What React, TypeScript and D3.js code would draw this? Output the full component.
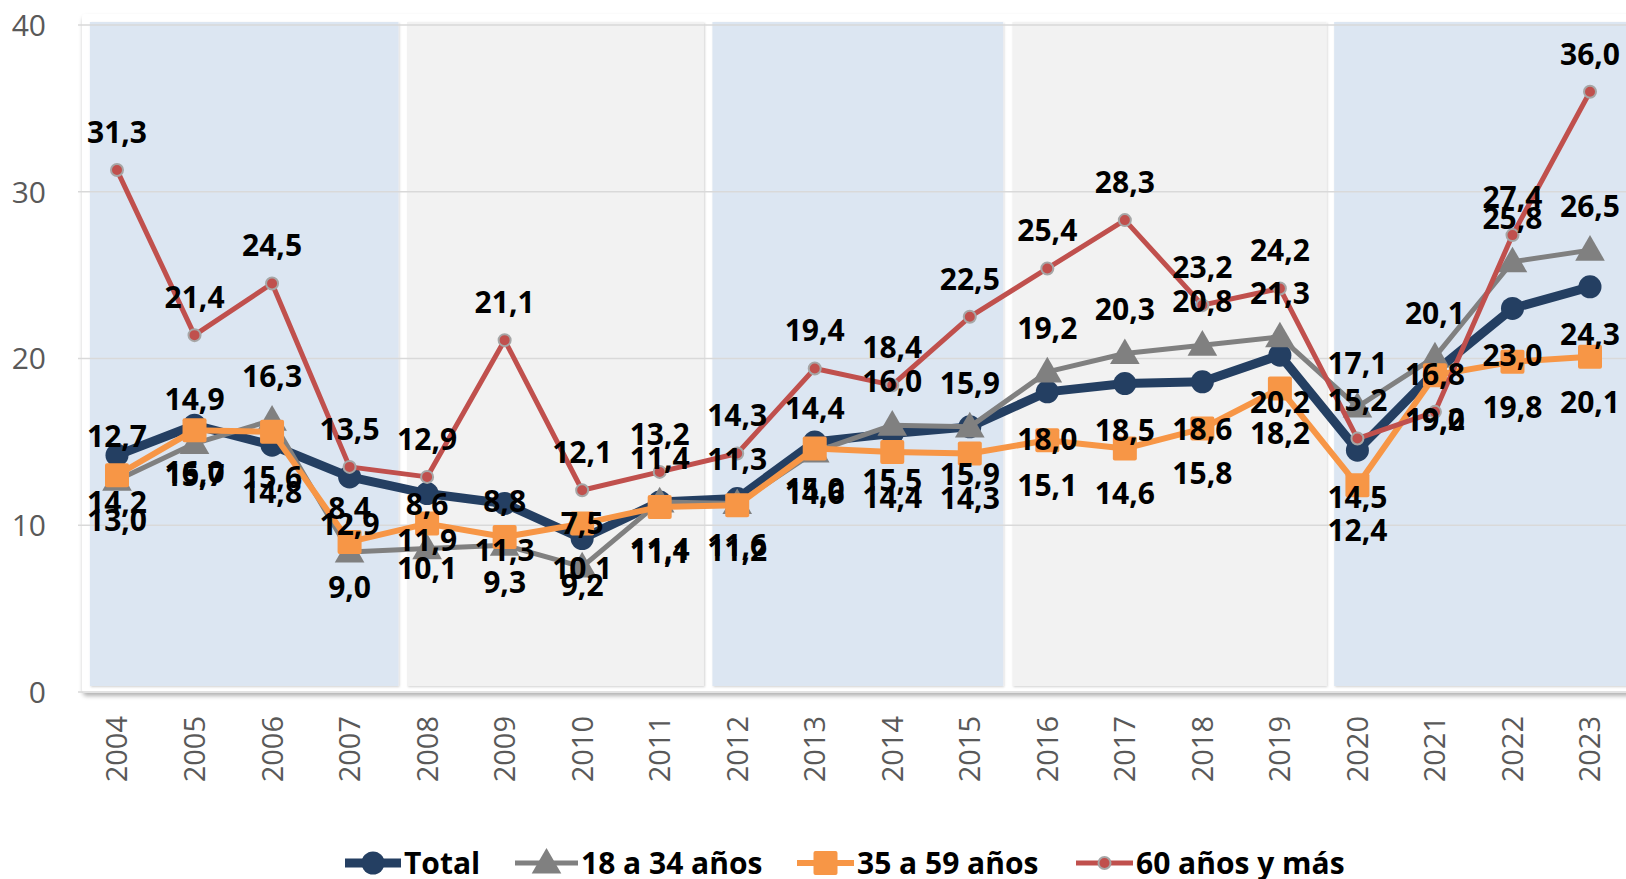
import React from "react";
import * as d3 from "d3";

const years = [2004, 2005, 2006, 2007, 2008, 2009, 2010, 2011, 2012, 2013, 2014, 2015, 2016, 2017, 2018, 2019, 2020, 2021, 2022, 2023];
const total = [14.2, 16.0, 14.8, 12.9, 11.9, 11.3, 9.2, 11.4, 11.6, 15.0, 15.5, 15.9, 18.0, 18.5, 18.6, 20.2, 14.5, 19.2, 23.0, 24.3];
const age18to34 = [12.7, 14.9, 16.3, 8.4, 8.6, 8.8, 7.5, 11.4, 11.3, 14.4, 16.0, 15.9, 19.2, 20.3, 20.8, 21.3, 17.1, 20.1, 25.8, 26.5];
const age35to59 = [13.0, 15.7, 15.6, 9.0, 10.1, 9.3, 10.1, 11.1, 11.2, 14.6, 14.4, 14.3, 15.1, 14.6, 15.8, 18.2, 12.4, 19.0, 19.8, 20.1];
const age60plus = [31.3, 21.4, 24.5, 13.5, 12.9, 21.1, 12.1, 13.2, 14.3, 19.4, 18.4, 22.5, 25.4, 28.3, 23.2, 24.2, 15.2, 16.8, 27.4, 36.0];
const yTicks = [0, 10, 20, 30, 40];
const seriesNames = ["Total", "18 a 34 años", "35 a 59 años", "60 años y más"];
// shaded periods, in year units (start, end)
const bandStarts = [2003.65, 2007.74, 2011.68, 2015.55, 2019.70];
const bandEnds = [2007.63, 2011.57, 2015.43, 2019.60, 2023.65];
const bandKinds = ["blue", "grey", "blue", "grey", "blue"];

const W = 1626;
const H = 879;
const FONT = "'Open Sans', 'Liberation Sans', sans-serif";

const x = d3.scaleLinear().domain([2004, 2023]).range([117, 1590]);
const y = d3.scaleLinear().domain([0, 40]).range([692, 25]);
const fmt = (v: number) => d3.format(".1f")(v).replace(".", ",");

const NAVY = "#243f62";
const GREY = "#808080";
const ORANGE = "#f79646";
const RED = "#c0504d";

type Series = {
  name: string;
  values: number[];
  color: string;
  width: number;
  marker: "circle" | "triangle" | "square" | "dot";
  labelDy: number;
};

const series: Series[] = [
  { name: seriesNames[0], values: total, color: NAVY, width: 9, marker: "circle", labelDy: 47 },
  { name: seriesNames[1], values: age18to34, color: GREY, width: 5, marker: "triangle", labelDy: -44 },
  { name: seriesNames[2], values: age35to59, color: ORANGE, width: 6, marker: "square", labelDy: 45 },
  { name: seriesNames[3], values: age60plus, color: RED, width: 5, marker: "dot", labelDy: -38 },
];

function Marker({ kind, cx, cy, color }: { kind: string; cx: number; cy: number; color: string }) {
  if (kind === "circle") return <circle cx={cx} cy={cy} r={11.5} fill={color} />;
  if (kind === "square") return <rect x={cx - 12} y={cy - 12} width={24} height={24} rx={2} fill={color} />;
  if (kind === "triangle") {
    const sym = d3.symbol().type(d3.symbolTriangle).size(380)();
    return <path d={sym as string} transform={`translate(${cx},${cy + 2})`} fill={color} />;
  }
  return <circle cx={cx} cy={cy} r={6} fill={color} stroke="#a6a6a6" strokeWidth={2} />;
}

export default function App() {
  const line = d3
    .line<number>()
    .x((_, i) => x(years[i]))
    .y((d) => y(d));

  const legendItems = [
    { s: series[0], lx: 345, tx: 404 },
    { s: series[1], lx: 515, tx: 581 },
    { s: series[2], lx: 797, tx: 857 },
    { s: series[3], lx: 1076, tx: 1136 },
  ];

  return (
    <svg
      width={W}
      height={H}
      style={{ position: "absolute", left: 0, top: 0, background: "#fff" }}
      fontFamily={FONT}
    >
      <defs>
        <filter id="sh" x="-5%" y="-5%" width="110%" height="115%">
          <feDropShadow dx="1" dy="3" stdDeviation="2" floodColor="#000" floodOpacity="0.3" />
        </filter>
        <filter id="sh2" x="-5%" y="-5%" width="110%" height="110%">
          <feDropShadow dx="1" dy="1" stdDeviation="1" floodColor="#000" floodOpacity="0.18" />
        </filter>
      </defs>

      {/* plot background */}
      <rect x={82} y={14} width={W} height={679} rx={4} fill="#fff" filter="url(#sh)" />
      {bandStarts.map((s, i) => (
        <rect
          key={i}
          x={x(s)}
          y={y(40) - 3}
          width={x(bandEnds[i]) - x(s)}
          height={y(0) - y(40) - 3}
          fill={bandKinds[i] === "blue" ? "#dce6f2" : "#f2f2f2"}
          filter="url(#sh2)"
        />
      ))}

      {/* gridlines */}
      {yTicks.map((t) => (
        <line key={t} x1={78} x2={W} y1={y(t)} y2={y(t)} stroke="#d9d9d9" strokeWidth={1.5} />
      ))}

      {/* y labels */}
      {yTicks.map((t) => (
        <text key={t} x={46} y={y(t)} dy="0.36em" textAnchor="end" fontSize={30} fill="#595959">
          {t}
        </text>
      ))}

      {/* x labels */}
      {years.map((yr) => (
        <text
          key={yr}
          transform={`translate(${x(yr)},716) rotate(-90)`}
          dy="0.36em"
          textAnchor="end"
          fontSize={29}
          fill="#595959"
        >
          {yr}
        </text>
      ))}

      {/* series */}
      {series.map((s) => (
        <g key={s.name}>
          <path d={line(s.values) as string} fill="none" stroke={s.color} strokeWidth={s.width} strokeLinejoin="round" />
          {s.values.map((v, i) => (
            <Marker key={i} kind={s.marker} cx={x(years[i])} cy={y(v)} color={s.color} />
          ))}
        </g>
      ))}

      {/* data labels */}
      {series.map((s) => (
        <g key={s.name + "-lab"}>
          {s.values.map((v, i) => (
            <text
              key={i}
              x={x(years[i])}
              y={y(v) + s.labelDy}
              dy="0.36em"
              textAnchor="middle"
              fontSize={30}
              fontWeight={700}
              fill="#000"
            >
              {fmt(v)}
            </text>
          ))}
        </g>
      ))}

      {/* legend */}
      {legendItems.map(({ s, lx, tx }) => (
        <g key={s.name + "-leg"}>
          <line x1={lx} x2={tx - 3} y1={863} y2={863} stroke={s.color} strokeWidth={s.width} />
          <Marker kind={s.marker} cx={(lx + tx - 3) / 2} cy={863} color={s.color} />
          <text x={tx} y={874} fontSize={30} fontWeight={700} fill="#000">
            {s.name}
          </text>
        </g>
      ))}
    </svg>
  );
}
